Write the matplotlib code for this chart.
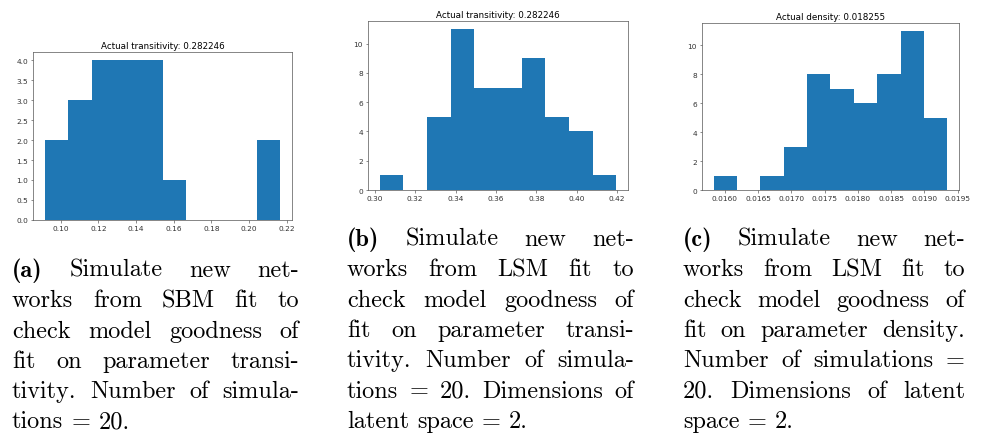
import matplotlib

matplotlib.use("Agg")
import matplotlib.pyplot as plt

W, H = 986, 435
BAR_COLOR = "#1f77b4"

# histogram data (bin edges + counts)
edges_a = [0.0915, 0.1040, 0.1165, 0.1290, 0.1415, 0.1540, 0.1665, 0.1790, 0.1915, 0.2040, 0.2165]
counts_a = [2, 3, 4, 4, 4, 1, 0, 0, 0, 2]
title_a = "Actual transitivity: 0.282246"

edges_b = [0.3025, 0.3142, 0.3259, 0.3376, 0.3493, 0.3610, 0.3727, 0.3844, 0.3961, 0.4078, 0.4195]
counts_b = [1, 0, 5, 11, 7, 7, 9, 5, 4, 1]
title_b = "Actual transitivity: 0.282246"

edges_c = [0.015834, 0.016185, 0.016536, 0.016887, 0.017238, 0.017589,
           0.017940, 0.018291, 0.018642, 0.018993, 0.019344]
counts_c = [1, 0, 1, 3, 8, 7, 6, 8, 11, 5]
title_c = "Actual density: 0.018255"

xticks_a = [0.10, 0.12, 0.14, 0.16, 0.18, 0.20, 0.22]
xticks_b = [0.30, 0.32, 0.34, 0.36, 0.38, 0.40, 0.42]
xticks_c = [0.0160, 0.0165, 0.0170, 0.0175, 0.0180, 0.0185, 0.0190, 0.0195]

caption_a = [
    "(a) Simulate new net-",
    "works from SBM fit to",
    "check model goodness of",
    "fit on parameter transi-",
    "tivity. Number of simula-",
    "tions = 20.",
]
caption_b = [
    "(b) Simulate new net-",
    "works from LSM fit to",
    "check model goodness of",
    "fit on parameter transi-",
    "tivity. Number of simula-",
    "tions = 20. Dimensions of",
    "latent space = 2.",
]
caption_c = [
    "(c) Simulate new net-",
    "works from LSM fit to",
    "check model goodness of",
    "fit on parameter density.",
    "Number of simulations =",
    "20. Dimensions of latent",
    "space = 2.",
]

CAP_FS = 17.5
LINE_STEP = 30.3


def hist_panel(rect, edges, counts, title, xticks, xfmt, yticks=None):
    ax = fig.add_axes(rect)
    ax.hist(edges[:-1], bins=edges, weights=counts, histtype="stepfilled",
            color=BAR_COLOR, edgecolor="none")
    ax.set_title(title, fontsize=6.3, pad=3)
    ax.set_xticks(xticks)
    ax.set_xticklabels([xfmt.format(v) for v in xticks])
    if yticks is not None:
        ax.set_yticks(yticks)
        ax.set_yticklabels(["{:.1f}".format(v) for v in yticks])
    ax.tick_params(labelsize=5.3, length=1.8, width=0.4, pad=1.8, colors="#333333")
    for s in ax.spines.values():
        s.set_linewidth(0.5)
        s.set_color("#555555")
    return ax


def caption(lines, x0, x1, y0):
    renderer = fig.canvas.get_renderer()
    space = CAP_FS * 100 / 72 * 0.333
    for i, line in enumerate(lines):
        y = y0 + i * LINE_STEP
        words = line.split(" ")
        texts = []
        for w in words:
            fam = "cmb10" if (w.startswith("(") and w.endswith(")")) else "cmr10"
            texts.append(fig.text(0, 1 - y / H, w, fontfamily=fam,
                                  fontsize=CAP_FS, va="baseline", ha="left"))
        widths = [t.get_window_extent(renderer).width for t in texts]
        last = i == len(lines) - 1
        if not last and len(words) > 1:
            gap = (x1 - x0 - sum(widths)) / (len(words) - 1)
        else:
            gap = space
        x = x0
        for t, wd in zip(texts, widths):
            t.set_x(x / W)
            x += wd + gap


fig = plt.figure(figsize=(W / 100, H / 100), dpi=100)

hist_panel([33 / W, 1 - 221 / H, 259 / W, 168 / H], edges_a, counts_a, title_a,
           xticks_a, "{:.2f}", yticks=[0, 0.5, 1, 1.5, 2, 2.5, 3, 3.5, 4])
hist_panel([368 / W, 1 - 191 / H, 260 / W, 169 / H], edges_b, counts_b, title_b,
           xticks_b, "{:.2f}")
hist_panel([702 / W, 1 - 191 / H, 257 / W, 167 / H], edges_c, counts_c, title_c,
           xticks_c, "{:.4f}")

fig.canvas.draw()
caption(caption_a, 12, 299, 277)
caption(caption_b, 347, 634, 246)
caption(caption_c, 683, 965, 246)

plt.savefig("out.png", dpi=100)
plt.close(fig)
